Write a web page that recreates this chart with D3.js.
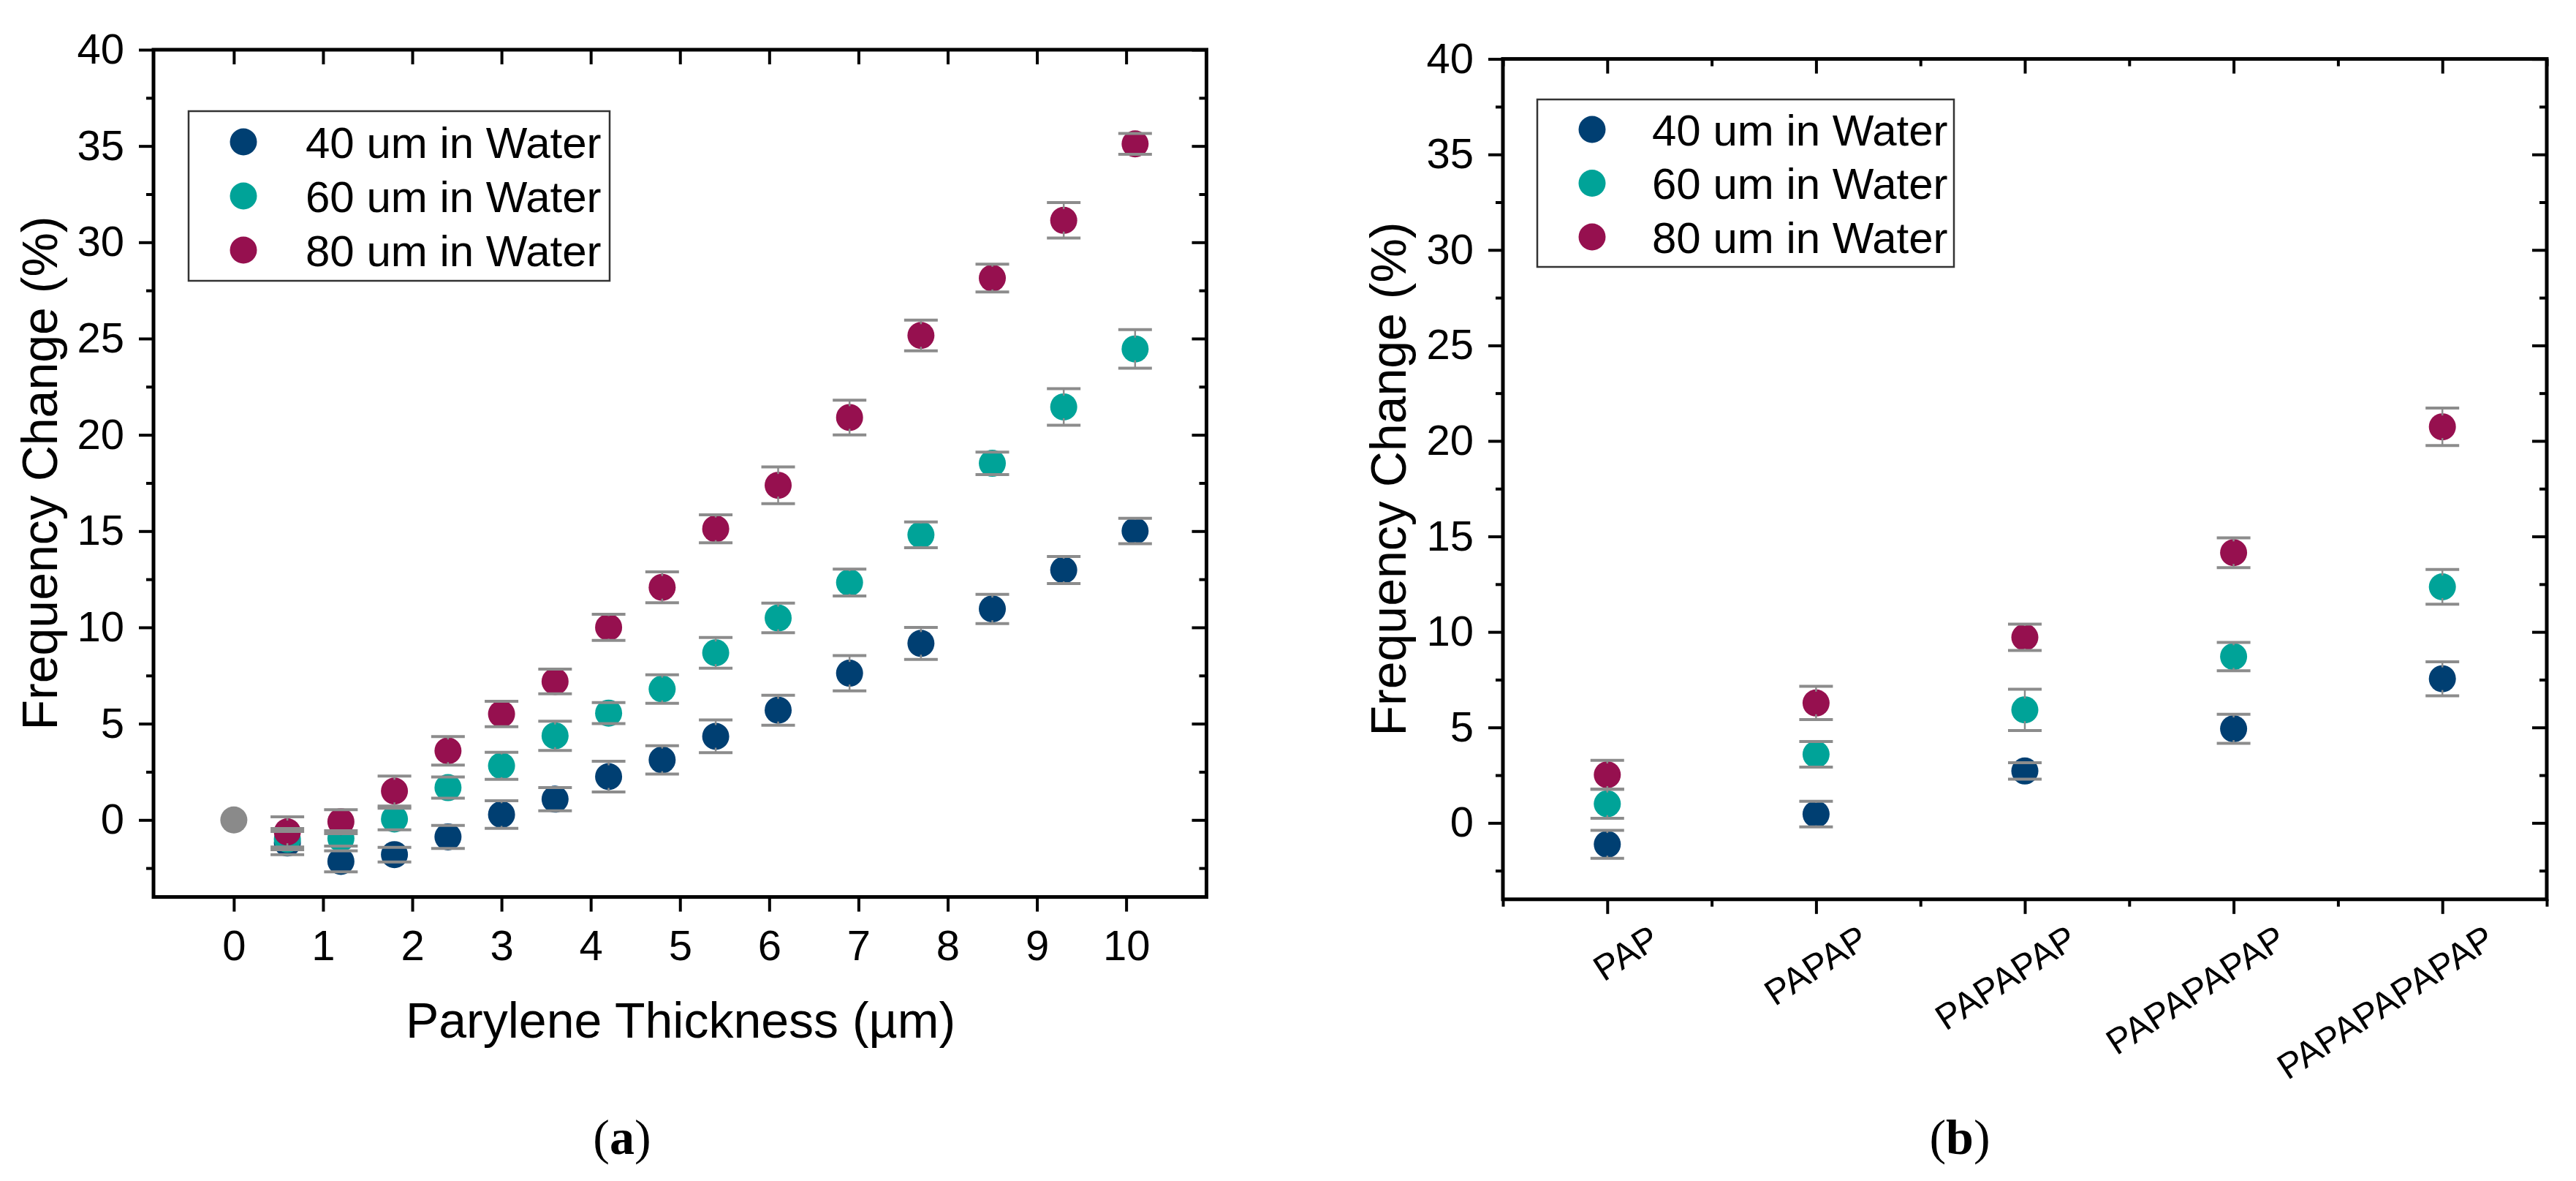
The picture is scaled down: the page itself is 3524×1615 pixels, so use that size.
<!DOCTYPE html>
<html><head><meta charset="utf-8">
<script src="https://cdn.jsdelivr.net/npm/d3@7"></script>
<style>
body{margin:0;background:#fff}
text{font-family:"Liberation Sans",Arial,sans-serif;fill:#000}
</style>
</head><body>
<svg id="c" width="3524" height="1615"></svg>
<script>
// ---------- DATA ----------
const seriesNames = ["40 um in Water", "60 um in Water", "80 um in Water"];
const seriesColors = ["#003f72", "#00a398", "#96104f"];

// Panel (a): Parylene thickness (µm)
const thickness = [0.6, 1.2, 1.8, 2.4, 3.0, 3.6, 4.2, 4.8, 5.4, 6.1, 6.9, 7.7, 8.5, 9.3, 10.1];
const a40 = [-1.2, -2.15, -1.8, -0.88, 0.28, 1.08, 2.25, 3.12, 4.34, 5.7, 7.62, 9.17, 10.96, 12.98, 15.01];
const a40err = [0.6, 0.55, 0.38, 0.6, 0.72, 0.6, 0.8, 0.74, 0.85, 0.78, 0.92, 0.83, 0.76, 0.7, 0.66];
const a60 = [-1.0, -0.96, 0.05, 1.68, 2.81, 4.37, 5.55, 6.8, 8.68, 10.49, 12.33, 14.81, 18.52, 21.45, 24.46];
const a60err = [0.55, 0.4, 0.56, 0.55, 0.7, 0.76, 0.55, 0.74, 0.8, 0.77, 0.7, 0.67, 0.58, 0.95, 1.0];
const a80 = [-0.62, -0.09, 1.5, 3.59, 5.5, 7.19, 10.0, 12.08, 15.12, 17.38, 20.9, 25.16, 28.14, 31.14, 35.11];
const a80err = [0.78, 0.62, 0.78, 0.74, 0.66, 0.64, 0.68, 0.8, 0.73, 0.95, 0.9, 0.8, 0.72, 0.92, 0.54];
const refPoint = [0, 0];
const aXTicks = [0, 1, 2, 3, 4, 5, 6, 7, 8, 9, 10];
const yTicks = [0, 5, 10, 15, 20, 25, 30, 35, 40];
const yMinorTicks = [-2.5, 2.5, 7.5, 12.5, 17.5, 22.5, 27.5, 32.5, 37.5];

// Panel (b): layer structures
const structures = ["PAP", "PAPAP", "PAPAPAP", "PAPAPAPAP", "PAPAPAPAPAP"];
const b40 = [-1.12, 0.46, 2.72, 4.93, 7.55];
const b40err = [0.73, 0.67, 0.43, 0.76, 0.89];
const b60 = [1.0, 3.59, 5.92, 8.71, 12.36];
const b60err = [0.76, 0.67, 1.08, 0.74, 0.91];
const b80 = [2.52, 6.28, 9.72, 14.15, 20.74];
const b80err = [0.76, 0.87, 0.69, 0.78, 0.98];

const yTitle = "Frequency Change (%)";
const aXTitle = "Parylene Thickness (µm)";

// ---------- DRAW ----------
const svg = d3.select("#c");
svg.append("rect").attr("width", 3524).attr("height", 1615).attr("fill", "#fff");

const R = 18.5, CAP = 23, ERRC = "#8c8c8c";
const TICKFS = 58, TITLEFS = 68, LEGFS = 60;

function styleAxis(g) {
  g.select(".domain").remove();
  g.selectAll(".tick line").attr("stroke", "#000").attr("stroke-width", 4);
  g.selectAll(".tick text").style("font-size", TICKFS + "px").attr("fill", "#000")
    .style("font-family", '"Liberation Sans",Arial,sans-serif');
}

function drawPanel(opts) {
  const { x, y, xTickValues, xLabelFmt, minorX, cx, series, extra } = opts;
  const [x0, x1] = x.range();
  const [y1, y0] = y.range();
  const g = svg.append("g");

  // Y axes
  g.append("g").attr("transform", `translate(${x0},0)`)
    .call(d3.axisLeft(y).tickValues(yTicks).tickSize(20).tickSizeOuter(0).tickPadding(20))
    .call(styleAxis);
  g.append("g").attr("transform", `translate(${x0},0)`)
    .call(d3.axisLeft(y).tickValues(yMinorTicks).tickSize(10).tickSizeOuter(0).tickFormat(""))
    .call(styleAxis);
  g.append("g").attr("transform", `translate(${x1},0)`)
    .call(d3.axisRight(y).tickValues(yTicks).tickSize(-20).tickSizeOuter(0).tickFormat(""))
    .call(styleAxis);
  g.append("g").attr("transform", `translate(${x1},0)`)
    .call(d3.axisRight(y).tickValues(yMinorTicks).tickSize(-10).tickSizeOuter(0).tickFormat(""))
    .call(styleAxis);

  // X axes
  const bottom = g.append("g").attr("transform", `translate(0,${y1})`)
    .call(d3.axisBottom(x).tickValues(xTickValues).tickSize(20).tickSizeOuter(0).tickPadding(25).tickFormat(xLabelFmt))
    .call(styleAxis);
  g.append("g").attr("transform", `translate(0,${y0})`)
    .call(d3.axisTop(x).tickValues(xTickValues).tickSize(-20).tickSizeOuter(0).tickFormat(""))
    .call(styleAxis);
  if (minorX) {
    g.append("g").attr("transform", `translate(0,${y1})`)
      .call(d3.axisBottom(x).tickValues(minorX).tickSize(10).tickSizeOuter(0).tickFormat(""))
      .call(styleAxis);
    g.append("g").attr("transform", `translate(0,${y0})`)
      .call(d3.axisTop(x).tickValues(minorX).tickSize(-10).tickSizeOuter(0).tickFormat(""))
      .call(styleAxis);
  }

  // frame
  g.append("rect").attr("x", x0).attr("y", y0).attr("width", x1 - x0).attr("height", y1 - y0)
    .attr("fill", "none").attr("stroke", "#000").attr("stroke-width", 5);

  if (extra) extra(g);

  // markers
  series.forEach((s, si) => {
    g.append("g").selectAll("circle").data(s.vals).join("circle")
      .attr("cx", (d, i) => x(cx[i])).attr("cy", d => y(d)).attr("r", R)
      .attr("fill", seriesColors[si]);
  });
  // error bars
  series.forEach((s, si) => {
    const eg = g.append("g");
    s.vals.forEach((v, i) => {
      const px = x(cx[i]);
      const yt = y(v + s.err[i]), yb = y(v - s.err[i]), yc = y(v);
      if (yc - yt > R - 3) {
        eg.append("line").attr("x1", px).attr("x2", px).attr("y1", yt).attr("y2", yc - R + 3)
          .attr("stroke", ERRC).attr("stroke-width", 2.5);
        eg.append("line").attr("x1", px).attr("x2", px).attr("y1", yb).attr("y2", yc + R - 3)
          .attr("stroke", ERRC).attr("stroke-width", 2.5);
      }
      [yt, yb].forEach(yy => eg.append("line").attr("x1", px - CAP).attr("x2", px + CAP)
        .attr("y1", yy).attr("y2", yy).attr("stroke", ERRC).attr("stroke-width", 4));
    });
  });
  return { g, bottom };
}

function legend(bx, by, bw, bh, mx, tx, rows) {
  const lg = svg.append("g");
  lg.append("rect").attr("x", bx).attr("y", by).attr("width", bw).attr("height", bh)
    .attr("fill", "#fff").attr("stroke", "#333").attr("stroke-width", 2.5);
  seriesNames.forEach((n, i) => {
    lg.append("circle").attr("cx", mx).attr("cy", rows[i]).attr("r", R).attr("fill", seriesColors[i]);
    lg.append("text").attr("x", tx).attr("y", rows[i]).attr("dy", "0.36em")
      .style("font-size", LEGFS + "px").text(n);
  });
}

// ----- Panel (a)
const xA = d3.scaleLinear().domain([-0.9, 10.9]).range([210, 1650.5]);
const yA = d3.scaleLinear().domain([-4, 40]).range([1226.6, 68]);
drawPanel({
  x: xA, y: yA, xTickValues: aXTicks, xLabelFmt: d3.format("d"), cx: thickness,
  series: [{ vals: a40, err: a40err }, { vals: a60, err: a60err }, { vals: a80, err: a80err }],
  extra: g => g.append("circle").attr("cx", xA(refPoint[0])).attr("cy", yA(refPoint[1]))
    .attr("r", R).attr("fill", "#8a8a8a")
});
legend(258, 152, 576, 232, 333, 418, [194, 268, 342]);
svg.append("text").attr("transform", "translate(78,647) rotate(-90)").attr("text-anchor", "middle")
  .style("font-size", TITLEFS + "px").text(yTitle);
svg.append("text").attr("x", 931).attr("y", 1419).attr("text-anchor", "middle")
  .style("font-size", TITLEFS + "px").text(aXTitle);

// ----- Panel (b)
const xBi = d3.scaleLinear().domain([0.5, 5.5]).range([2056, 3484]);
const yB = d3.scaleLinear().domain([-4, 40]).range([1229.8, 80.6]);
const idx = structures.map((d, i) => i + 1);
const pb = drawPanel({
  x: xBi, y: yB, xTickValues: idx, xLabelFmt: i => structures[i - 1],
  minorX: [0.5, 1.5, 2.5, 3.5, 4.5, 5.5], cx: idx,
  series: [{ vals: b40, err: b40err }, { vals: b60, err: b60err }, { vals: b80, err: b80err }]
});
pb.bottom.selectAll(".tick text")
  .attr("y", null).attr("dy", null)
  .attr("text-anchor", "end")
  .attr("transform", "translate(74,62) rotate(-33)")
  .style("font-size", "49px");
legend(2103, 136, 570, 229, 2178, 2260, [177, 250.5, 324]);
svg.append("text").attr("transform", "translate(1923,655) rotate(-90)").attr("text-anchor", "middle")
  .style("font-size", TITLEFS + "px").text(yTitle);

// ----- Sub-figure labels
function subLabel(cx, letter) {
  const t = svg.append("text").attr("x", cx).attr("y", 1578).attr("text-anchor", "middle")
    .style("font-family", '"Liberation Serif","Times New Roman",serif').style("font-size", "68px");
  t.append("tspan").text("(");
  t.append("tspan").style("font-weight", "bold").text(letter);
  t.append("tspan").text(")");
}
subLabel(851, "a");
subLabel(2681, "b");
</script>
</body></html>
